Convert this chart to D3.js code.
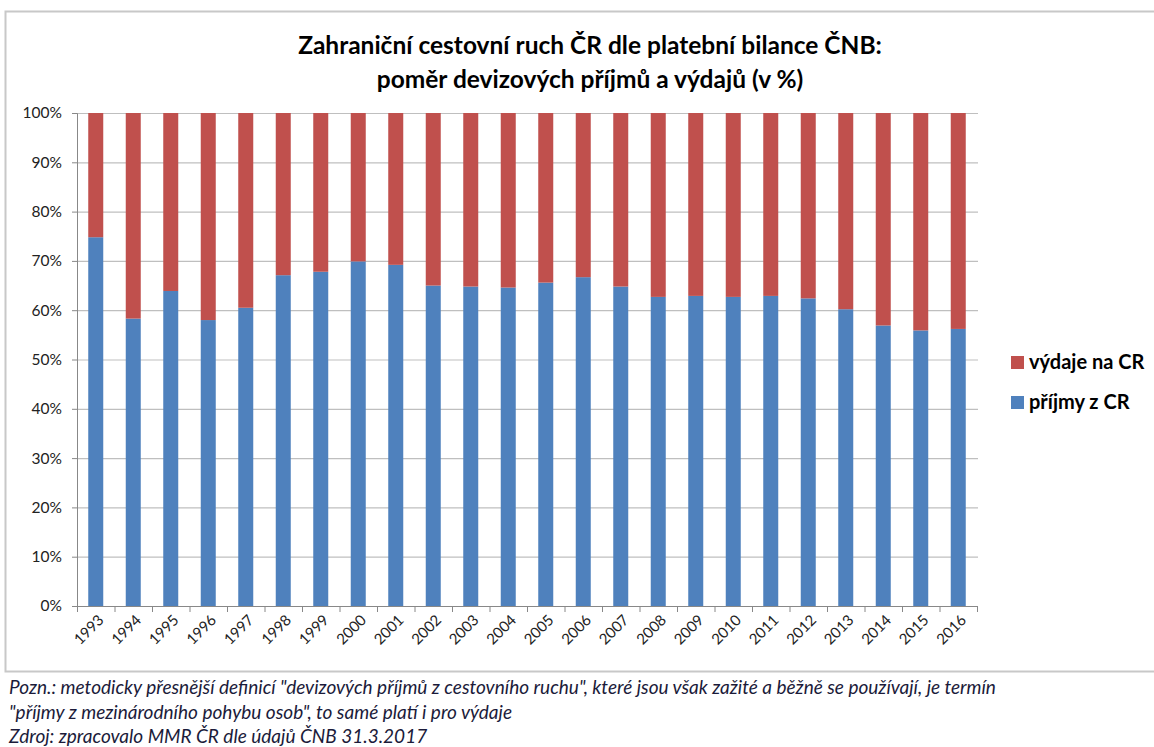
<!DOCTYPE html>
<html>
<head>
<meta charset="utf-8">
<script src="https://cdn.jsdelivr.net/npm/d3@7"></script>
<style>
  body { margin: 0; background: #fff; font-family: Lato, 'Open Sans', sans-serif; }
</style>
</head>
<body>
<div id="chart"></div>
<script>
// Data
const years = ['1993', '1994', '1995', '1996', '1997', '1998', '1999', '2000', '2001', '2002', '2003', '2004',
  '2005', '2006', '2007', '2008', '2009', '2010', '2011', '2012', '2013', '2014', '2015', '2016'];
const prijmy = [74.8, 58.3, 63.9, 58.0, 60.5, 67.1, 67.8, 69.9, 69.2, 65.0, 64.8, 64.6,
  65.6, 66.7, 64.8, 62.7, 62.9, 62.7, 62.9, 62.4, 60.2, 56.9, 55.9, 56.2];
const vydaje = prijmy.map((p) => +(100 - p).toFixed(1));
const yTicks = [0, 10, 20, 30, 40, 50, 60, 70, 80, 90, 100];
const seriesNames = ['výdaje na CR', 'příjmy z CR'];
const colors = { prijmy: '#4f81bd', vydaje: '#c0504d' };
const notes = [
  'Pozn.: metodicky přesnější definicí "devizových příjmů z cestovního ruchu", které jsou však zažité a běžně se používají, je termín',
  '"příjmy z mezinárodního pohybu osob", to samé platí i pro výdaje',
  'Zdroj: zpracovalo MMR ČR dle údajů ČNB 31.3.2017',
];

const width = 1154;
const height = 747;
const plotLeft = 77;
const plotRight = 977;
const plotTop = 113;
const plotBottom = 606;

const svg = d3
  .select('#chart')
  .append('svg')
  .attr('width', width)
  .attr('height', height);

// Frame around chart
svg
  .append('rect')
  .attr('x', 5.5)
  .attr('y', 11.5)
  .attr('width', width + 10)
  .attr('height', 660)
  .attr('fill', 'none')
  .attr('stroke', '#c8c8c8')
  .attr('stroke-width', 2);

// Title
const title = svg
  .append('text')
  .attr('text-anchor', 'middle')
  .style('font-size', '24.5px')
  .style('font-weight', 'bold')
  .style('fill', '#000');
title.append('tspan').attr('x', 590).attr('y', 54).text('Zahraniční cestovní ruch ČR dle platební bilance ČNB:');
title.append('tspan').attr('x', 590).attr('y', 88).text('poměr devizových příjmů a výdajů (v %)');

// Scales
const x = d3
  .scaleBand()
  .domain(years)
  .range([plotLeft, plotRight])
  .paddingInner(0.6)
  .paddingOuter(0.3);

const y = d3.scaleLinear().domain([0, 100]).range([plotBottom, plotTop]);

// Gridlines
svg
  .append('g')
  .selectAll('line')
  .data(yTicks.filter((t) => t > 0))
  .enter()
  .append('line')
  .attr('x1', plotLeft)
  .attr('x2', plotRight + 1)
  .attr('y1', (d) => y(d) + 0.5)
  .attr('y2', (d) => y(d) + 0.5)
  .attr('stroke', '#bfbfbf')
  .attr('stroke-width', 1.2);

// Stacked bars
const rows = years.map((yr, i) => ({ year: yr, prijmy: prijmy[i], vydaje: vydaje[i] }));
const stacked = d3.stack().keys(['prijmy', 'vydaje'])(rows);

svg
  .append('g')
  .selectAll('g')
  .data(stacked)
  .enter()
  .append('g')
  .attr('fill', (s) => colors[s.key])
  .selectAll('rect')
  .data((s) => s)
  .enter()
  .append('rect')
  .attr('x', (d) => x(d.data.year))
  .attr('width', x.bandwidth())
  .attr('y', (d) => y(d[1]))
  .attr('height', (d) => y(d[0]) - y(d[1]));

// Y axis
const yAxis = svg
  .append('g')
  .attr('transform', 'translate(' + plotLeft + ',0)')
  .call(
    d3.axisLeft(y)
      .tickValues(yTicks)
      .tickFormat((d) => d + '%')
      .tickSize(5)
      .tickPadding(10),
  );
yAxis.select('.domain').attr('stroke', '#888');
yAxis.selectAll('.tick line').attr('stroke', '#888');
yAxis.selectAll('text').style('font-size', '15.5px').style('fill', '#222').style('font-family', 'Lato, sans-serif');

// X axis with ticks between categories
const xAxisG = svg.append('g').attr('transform', 'translate(0,' + plotBottom + ')');
xAxisG
  .append('line')
  .attr('x1', plotLeft)
  .attr('x2', plotRight)
  .attr('y1', 0.5)
  .attr('y2', 0.5)
  .attr('stroke', '#888');
const step = x.step();
xAxisG
  .selectAll('.sep')
  .data(d3.range(years.length + 1))
  .enter()
  .append('line')
  .attr('class', 'sep')
  .attr('x1', (i) => plotLeft + i * step + 0.5)
  .attr('x2', (i) => plotLeft + i * step + 0.5)
  .attr('y1', 0)
  .attr('y2', 6)
  .attr('stroke', '#888');
xAxisG
  .selectAll('.lbl')
  .data(years)
  .enter()
  .append('text')
  .attr('class', 'lbl')
  .attr('text-anchor', 'end')
  .attr('transform', (d) => 'translate(' + (x(d) + x.bandwidth() / 2 + 9) + ',15) rotate(-45)')
  .style('font-size', '15px')
  .style('fill', '#222')
  .text((d) => d);

// Legend
const legend = svg
  .append('g')
  .selectAll('g')
  .data(seriesNames)
  .enter()
  .append('g')
  .attr('transform', (d, i) => 'translate(1011,' + (356 + i * 40) + ')');
legend
  .append('rect')
  .attr('width', 13)
  .attr('height', 13)
  .attr('fill', (d, i) => (i === 0 ? colors.vydaje : colors.prijmy));
legend
  .append('text')
  .attr('x', 18)
  .attr('y', 13)
  .style('font-size', '20px')
  .style('font-weight', 'bold')
  .style('fill', '#000')
  .text((d) => d);

// Footnotes
svg
  .append('g')
  .selectAll('text')
  .data(notes)
  .enter()
  .append('text')
  .attr('x', 9)
  .attr('y', (d, i) => 694 + i * 24.5)
  .style('font-size', '19px')
  .style('font-style', 'italic')
  .style('fill', '#1b1b3a')
  .text((d) => d);
</script>
</body>
</html>
